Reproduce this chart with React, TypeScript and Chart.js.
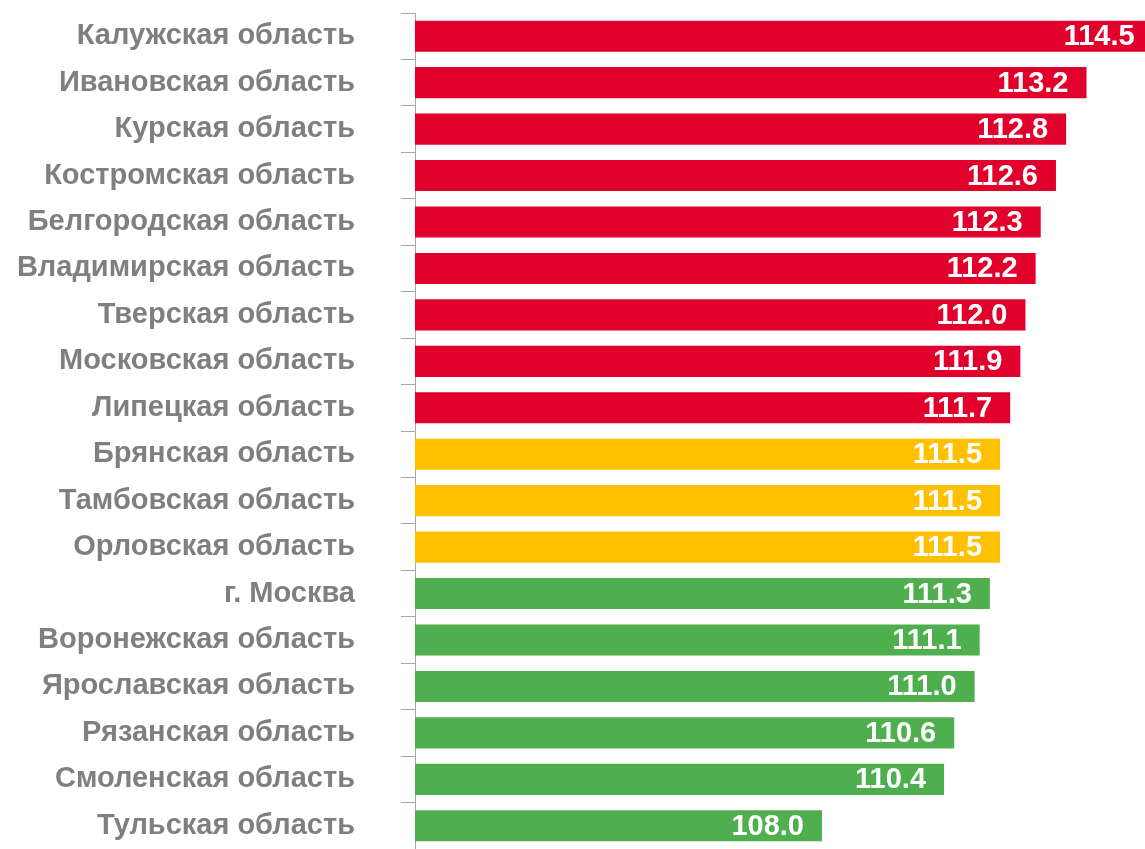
import React, { useEffect, useRef } from "react";
import { Chart, registerables } from "chart.js";

Chart.register(...registerables);

const regions: string[] = [
  "Калужская область",
  "Ивановская область",
  "Курская область",
  "Костромская область",
  "Белгородская область",
  "Владимирская область",
  "Тверская область",
  "Московская область",
  "Липецкая область",
  "Брянская область",
  "Тамбовская область",
  "Орловская область",
  "г. Москва",
  "Воронежская область",
  "Ярославская область",
  "Рязанская область",
  "Смоленская область",
  "Тульская область",
];

const values: number[] = [
  114.5, 113.2, 112.8, 112.6, 112.3, 112.2, 112.0, 111.9, 111.7,
  111.5, 111.5, 111.5, 111.3, 111.1, 111.0, 110.6, 110.4, 108.0,
];

const RED = "#E1002B";
const YELLOW = "#FFC000";
const GREEN = "#4FAF4F";

const colorFor = (v: number) => (v > 111.5 ? RED : v === 111.5 ? YELLOW : GREEN);

const FONT = "'Liberation Sans', Arial, sans-serif";

const valueLabels = {
  id: "valueLabels",
  afterDatasetsDraw(chart: any) {
    const ctx = chart.ctx;
    const meta = chart.getDatasetMeta(0);
    ctx.save();
    ctx.fillStyle = "#FFFFFF";
    ctx.font = `bold 29px ${FONT}`;
    ctx.textAlign = "right";
    ctx.textBaseline = "middle";
    meta.data.forEach((bar: any, i: number) => {
      ctx.fillText(values[i].toFixed(1), bar.x - 18, bar.y + 1);
    });
    ctx.restore();
  },
};

export default function App() {
  const ref = useRef<HTMLCanvasElement | null>(null);

  useEffect(() => {
    if (!ref.current) return;
    const chart = new Chart(ref.current, {
      type: "bar",
      data: {
        labels: regions,
        datasets: [
          {
            data: values,
            backgroundColor: values.map(colorFor),
            borderWidth: 0,
            barPercentage: 0.67,
            categoryPercentage: 1,
          },
        ],
      },
      options: {
        indexAxis: "y",
        responsive: false,
        animation: false,
        layout: { padding: { top: 13, right: 0, bottom: 0, left: 0 } },
        plugins: {
          legend: { display: false },
          tooltip: { enabled: false },
        },
        scales: {
          x: {
            display: false,
            min: 100,
            max: 114.35,
          },
          y: {
            afterFit: (scale: any) => {
              scale.width = 415;
              scale.paddingTop = 0;
              scale.paddingBottom = 0;
            },
            grid: {
              offset: true,
              drawOnChartArea: false,
              drawTicks: true,
              tickLength: 14,
              color: "#A6A6A6",
              lineWidth: 1,
            },
            border: { display: true, color: "#A6A6A6", width: 1 },
            ticks: {
              padding: 46,
              color: "#7F7F7F",
              font: { family: FONT, size: 29, weight: "bold" },
              autoSkip: false,
            },
          },
        },
      },
      plugins: [valueLabels],
    });
    return () => chart.destroy();
  }, []);

  return (
    <div style={{ position: "absolute", left: 0, top: 0, width: 1145, height: 849, background: "#fff" }}>
      <canvas ref={ref} width={1145} height={849} />
    </div>
  );
}
